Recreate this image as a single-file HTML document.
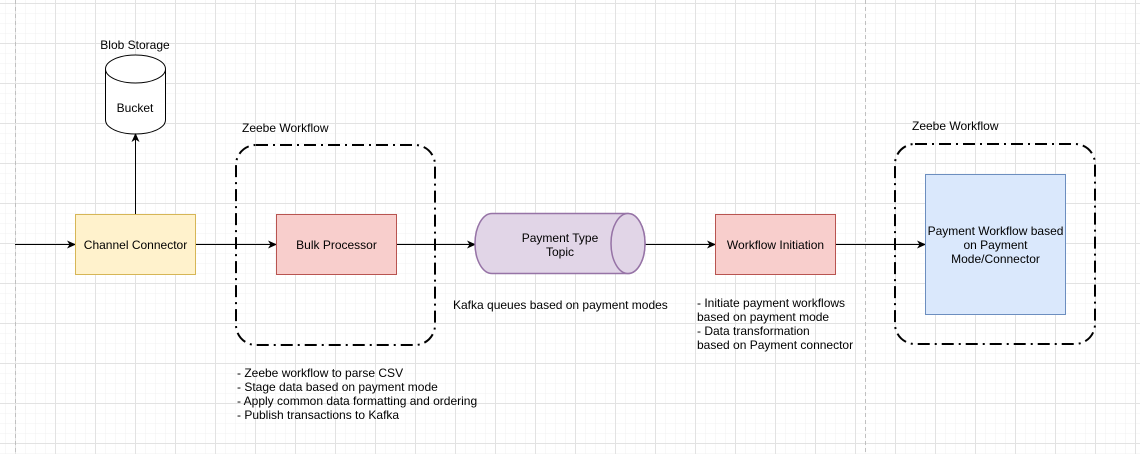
<!DOCTYPE html>
<html><head><meta charset="utf-8"><style>
html,body{margin:0;padding:0;background:#fff}
svg{display:block}
text{font-family:"Liberation Sans",sans-serif;font-size:12px;fill:#000}
</style></head><body>
<svg width="1140" height="454" viewBox="0 0 1140 454" xmlns="http://www.w3.org/2000/svg">
<defs>
<pattern id="minor" x="5" y="3" width="10" height="10" patternUnits="userSpaceOnUse">
<path d="M0 0H10M0 0V10" stroke="#f0f0f0" stroke-width="1" fill="none"/>
</pattern>
<pattern id="major" x="15" y="3" width="40" height="40" patternUnits="userSpaceOnUse">
<path d="M0 0.5H40M0.5 0V40" stroke="#e2e2e2" stroke-width="1" fill="none"/>
</pattern>
<marker id="ar" markerWidth="10" markerHeight="10" refX="8" refY="5" orient="auto" markerUnits="userSpaceOnUse">
<path d="M0 1L9 5L0 9L2.5 5Z" fill="#000"/>
</marker>
</defs>
<rect width="1140" height="454" fill="url(#minor)"/>
<rect width="1140" height="454" fill="url(#major)"/>
<line x1="15.5" y1="0" x2="15.5" y2="454" stroke="#c0c0c0" stroke-dasharray="4 3"/>
<line x1="865.5" y1="0" x2="865.5" y2="454" stroke="#c0c0c0" stroke-dasharray="4 3"/>

<!-- bucket -->
<text x="135" y="49" text-anchor="middle">Blob Storage</text>
<path d="M105.5 69 V120 A30 14 0 0 0 165.5 120 V69" fill="#fff" stroke="#000"/>
<ellipse cx="135.5" cy="69" rx="30" ry="14" fill="#fff" stroke="#000"/>
<text x="135" y="112" text-anchor="middle">Bucket</text>

<!-- connectors -->
<line x1="15" y1="244.5" x2="75" y2="244.5" stroke="#000" marker-end="url(#ar)"/>
<line x1="135.5" y1="214" x2="135.5" y2="134" stroke="#000" marker-end="url(#ar)"/>
<line x1="195" y1="244.5" x2="276" y2="244.5" stroke="#000" marker-end="url(#ar)"/>
<line x1="396" y1="244.5" x2="475" y2="244.5" stroke="#000" marker-end="url(#ar)"/>
<line x1="645" y1="244.5" x2="715" y2="244.5" stroke="#000" marker-end="url(#ar)"/>
<line x1="835" y1="244.5" x2="925" y2="244.5" stroke="#000" marker-end="url(#ar)"/>

<!-- groups -->
<text x="242" y="132">Zeebe Workflow</text>
<rect x="236" y="145" width="199" height="200" rx="20" fill="none" stroke="#000" stroke-width="2" stroke-dasharray="12 5 2 5"/>
<text x="912" y="130">Zeebe Workflow</text>
<rect x="895" y="144" width="200" height="200" rx="20" fill="none" stroke="#000" stroke-width="2" stroke-dasharray="12 5 2 5"/>

<!-- boxes -->
<rect x="75.5" y="214.5" width="120" height="60" fill="#fff2cc" stroke="#d6b656"/>
<text x="135.5" y="249" text-anchor="middle">Channel Connector</text>
<rect x="276.5" y="214.5" width="120" height="60" fill="#f8cecc" stroke="#b85450"/>
<text x="336.5" y="249" text-anchor="middle">Bulk Processor</text>
<rect x="715.5" y="214.5" width="120" height="60" fill="#f8cecc" stroke="#b85450"/>
<text x="775.5" y="249" text-anchor="middle">Workflow Initiation</text>
<rect x="925.5" y="174.5" width="140" height="140" fill="#dae8fc" stroke="#6c8ebf"/>
<text x="995.5" y="235" text-anchor="middle">Payment Workflow based</text>
<text x="995.5" y="249" text-anchor="middle">on Payment</text>
<text x="995.5" y="263" text-anchor="middle">Mode/Connector</text>

<!-- topic cylinder -->
<path d="M492 213.5 H628 A17 30 0 0 1 628 273.5 H492 A17 30 0 0 1 492 213.5 Z" fill="#e1d5e7" stroke="#9673a6" stroke-width="1.5"/>
<ellipse cx="628" cy="243.5" rx="17" ry="30" fill="#e1d5e7" stroke="#9673a6" stroke-width="1.5"/>
<text x="560" y="242" text-anchor="middle">Payment Type</text>
<text x="560" y="256" text-anchor="middle">Topic</text>

<!-- notes -->
<text x="453" y="309">Kafka queues based on payment modes</text>
<text x="697" y="307">- Initiate payment workflows</text>
<text x="697" y="321"> based on payment mode</text>
<text x="697" y="335">- Data transformation</text>
<text x="697" y="349">based on Payment connector</text>
<text x="237" y="377">- Zeebe workflow to parse CSV</text>
<text x="237" y="391">- Stage data based on payment mode</text>
<text x="237" y="405">- Apply common data formatting and ordering</text>
<text x="237" y="419">- Publish transactions to Kafka</text>
</svg>
</body></html>
